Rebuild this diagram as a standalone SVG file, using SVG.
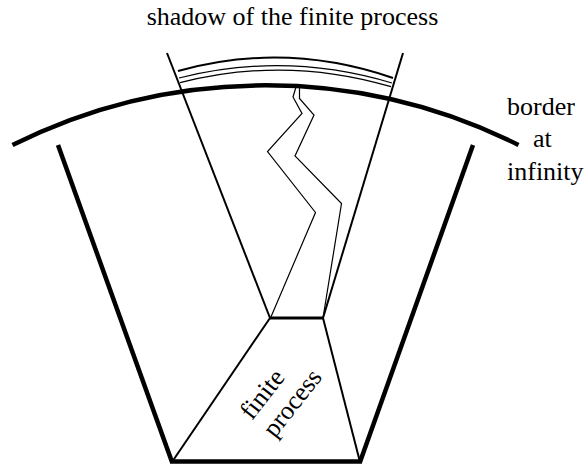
<svg xmlns="http://www.w3.org/2000/svg" width="586" height="464" viewBox="0 0 586 464">
<style>
  .t { font-family: "Liberation Serif", "Times New Roman", serif; font-size: 26px; fill: #000; }
  .thick { fill: none; stroke: #000; stroke-width: 4.5; stroke-linecap: butt; }
  .mid { fill: none; stroke: #000; stroke-width: 2; stroke-linecap: butt; }
  .thin { fill: none; stroke: #000; stroke-width: 1.2; stroke-linejoin: miter; }
</style>
<rect width="586" height="464" fill="#fff"/>
<g id="border">
  <path class="thick" d="M 12.5 145 A 566 566 0 0 1 518.5 145"/>
</g>
<g id="cone">
  <line class="thick" x1="58" y1="145" x2="172" y2="462"/>
  <line class="thick" x1="473" y1="145" x2="360" y2="462"/>
  <line class="thick" x1="170" y1="461.5" x2="362" y2="461.5"/>
</g>
<g id="finite-process">
  <line class="mid" x1="270" y1="318" x2="323" y2="318" style="stroke-width:3"/>
  <line class="mid" x1="270" y1="318" x2="172" y2="462"/>
  <line class="mid" x1="323" y1="318" x2="360" y2="462"/>
  <g transform="translate(252,421) rotate(-52)">
    <text class="t" x="0" y="0">finite</text>
    <text class="t" x="0" y="29">process</text>
  </g>
</g>
<g id="connectors">
  <line class="mid" x1="167" y1="53" x2="270" y2="318"/>
  <line class="mid" x1="403" y1="53" x2="323" y2="318"/>
  <polyline class="thin" points="296,87 293,97 302,113.5 267.5,151.5 315.5,212.5 270.5,318"/>
  <polyline class="thin" points="299.5,87 299.5,98.5 314,115 295,156 341.5,203.5 323,318"/>
</g>
<g id="shadow">
  <path class="mid" d="M 178 71 Q 285.5 41 393 78"/>
  <path class="thin" d="M 179 78 Q 285.5 51 392 83"/>
  <path class="thin" d="M 180 82.7 Q 285.5 55.5 391 86.7"/>
</g>
<g id="labels">
  <text class="t" x="292.5" y="25" text-anchor="middle">shadow of the finite process</text>
  <text class="t" x="507" y="115">border</text>
  <text class="t" x="533" y="147">at</text>
  <text class="t" x="507" y="180">infinity</text>
</g>
</svg>
